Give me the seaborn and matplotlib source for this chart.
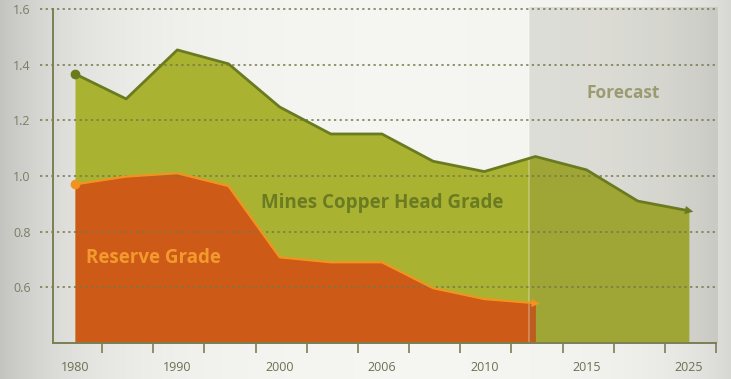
import matplotlib
matplotlib.use("Agg")
import matplotlib.pyplot as plt
import numpy as np
import pandas as pd
import seaborn as sns

# values (x positions are equally spaced steps)
step = list(range(13))
head_grade = [1.367, 1.277, 1.453, 1.403, 1.248, 1.151, 1.151, 1.053, 1.016, 1.070, 1.022, 0.910, 0.875]
reserve_grade = [0.970, 0.998, 1.010, 0.964, 0.708, 0.690, 0.690, 0.597, 0.558, 0.543]
year_labels = ["1980", "1990", "2000", "2006", "2010", "2015", "2025"]
label_steps = [0, 2, 4, 6, 8, 10, 12]
grid_values = [0.6, 0.8, 1.0, 1.2, 1.4, 1.6]
forecast_start = 8.88

df_head = pd.DataFrame({"step": step, "grade": head_grade})
df_res = pd.DataFrame({"step": step[:len(reserve_grade)], "grade": reserve_grade})

sns.set_style("white")
plt.rcParams["font.family"] = ["Open Sans", "DejaVu Sans"]

fig = plt.figure(figsize=(7.31, 3.79), dpi=100)

# soft grey-white-grey background
bg = fig.add_axes([0, 0, 1, 1], zorder=-10)
xs = np.linspace(0, 1, 400)
shade = 1 - 0.20 * np.exp(-((xs) / 0.12)) - 0.12 * np.exp(-((1 - xs) / 0.10)) - 0.03
col0 = np.array([0.965, 0.965, 0.95])
img = (shade[None, :, None] * col0[None, None, :] / 0.97).clip(0, 1)
bg.imshow(np.repeat(img, 2, axis=0), aspect="auto", extent=[0, 1, 0, 1])
bg.axis("off")

ax = fig.add_axes([53 / 731, 36 / 379, 663 / 731, 334 / 379])
ax.patch.set_alpha(0)
base = 0.4
ax.set_ylim(base, 1.6)
ax.set_xlim(-0.43, 12.53)

ax.fill_between(df_head["step"], df_head["grade"], base, color="#aab232", lw=0, zorder=1)
ax.fill_between(df_res["step"], df_res["grade"], base, color="#cd5b17", lw=0, zorder=2)

# forecast band
ax.axvspan(forecast_start, 12.56, ymin=0, ymax=1.006, color="#646450", alpha=0.15,
           lw=0, zorder=3, clip_on=False)
ax.axvline(forecast_start, ymin=0, ymax=1.006, color="white", alpha=0.3, lw=1.2,
           zorder=3, clip_on=False)

for g in grid_values:
    ax.axhline(g, xmin=-0.02, xmax=1.003, color="#76774a", lw=1.1,
               ls=(0, (1.5, 2.2)), zorder=4, clip_on=False)

sns.lineplot(data=df_head, x="step", y="grade", ax=ax, color="#6a7b1f", lw=2, zorder=5)
sns.lineplot(data=df_res, x="step", y="grade", ax=ax, color="#f3931f", lw=1.6, zorder=6)
ax.plot(df_head["step"].iloc[0], df_head["grade"].iloc[0], "o", color="#6a7b1f", ms=6, zorder=7)
ax.plot(df_res["step"].iloc[0], df_res["grade"].iloc[0], "o", color="#f3931f", ms=6, zorder=7)

# arrow heads at the ends
for d, c in [(df_head, "#6a7b1f"), (df_res, "#f3931f")]:
    x0, y0 = d["step"].iloc[-1], d["grade"].iloc[-1]
    x1, y1 = d["step"].iloc[-2], d["grade"].iloc[-2]
    dx, dy = x0 - x1, y0 - y1
    ax.annotate("", xy=(x0 + 0.14, y0 + dy / dx * 0.14), xytext=(x0 - 0.05, y0 - dy / dx * 0.05),
                arrowprops=dict(arrowstyle="-|>,head_length=0.6,head_width=0.3", color=c, lw=0),
                zorder=7)

ax.text(6, 0.903, "Mines Copper Head Grade", color="#6b7b22", fontsize=13.5,
        fontweight="bold", ha="center", va="center", zorder=8)
ax.text(1.54, 0.706, "Reserve Grade", color="#f39a2e", fontsize=13.5,
        fontweight="bold", ha="center", va="center", zorder=8)
ax.text(10.71, 1.298, "Forecast", color="#9b9b72", fontsize=12.5,
        fontweight="bold", ha="center", va="center", zorder=8)

for s in ["top", "right"]:
    ax.spines[s].set_visible(False)
for s in ["left", "bottom"]:
    ax.spines[s].set_color("#7c7f55")
    ax.spines[s].set_linewidth(1.4)
    ax.spines[s].set_zorder(9)

ax.set_yticks(grid_values)
ax.set_yticklabels([f"{v:.1f}" for v in grid_values])
ax.tick_params(axis="y", length=0, pad=16, labelsize=9, labelcolor="#7c7d63")

ax.set_xticks(label_steps)
ax.set_xticklabels(year_labels)
ax.tick_params(axis="x", length=0, pad=13, labelsize=9, labelcolor="#6e6f52")
ax.set_xticks([i + 0.53 for i in step], minor=True)
ax.tick_params(axis="x", which="minor", bottom=True, length=7, width=1.2,
               color="#7c7f55", direction="out")

ax.set_xlabel("")
ax.set_ylabel("")

fig.savefig("out.png", dpi=100)
